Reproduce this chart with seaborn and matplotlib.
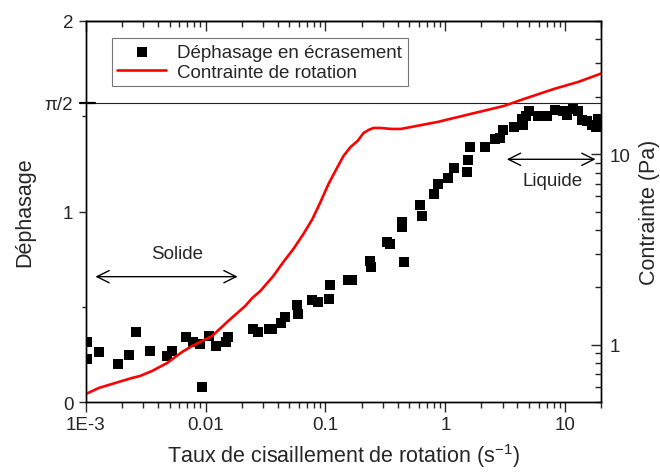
import numpy as np
import pandas as pd
import matplotlib
matplotlib.use("Agg")
import matplotlib.pyplot as plt
from matplotlib.ticker import FixedLocator, NullFormatter, LogLocator, FixedFormatter
import seaborn as sns

# Phase shift in squeezing (left axis)
shear_rate_phase = [0.00102, 0.00102, 0.001285, 0.001854, 0.00229, 0.00262, 0.00343, 0.00476,
                    0.00525, 0.00687, 0.00786, 0.00899, 0.00935, 0.0107, 0.01225, 0.01486,
                    0.0154, 0.0250, 0.0275, 0.0340, 0.0360, 0.0428, 0.0462, 0.0583, 0.0594,
                    0.0778, 0.0873, 0.1079, 0.110, 0.153, 0.165, 0.233, 0.238, 0.324, 0.343,
                    0.433, 0.433, 0.450, 0.612, 0.636, 0.801, 0.865, 1.05, 1.18, 1.51, 1.54,
                    1.60, 2.14, 2.60, 2.86, 3.03, 3.74, 4.45, 4.37, 4.72, 5.00, 5.95, 7.07,
                    8.24, 9.62, 10.4, 11.7, 12.8, 13.9, 15.3, 16.8, 18.2, 18.9]
phase = [0.313, 0.225, 0.261, 0.198, 0.245, 0.366, 0.266, 0.240, 0.266, 0.339, 0.313, 0.303,
         0.078, 0.345, 0.292, 0.313, 0.339, 0.381, 0.366, 0.386, 0.386, 0.413, 0.444, 0.507,
         0.460, 0.533, 0.527, 0.543, 0.616, 0.642, 0.642, 0.742, 0.710, 0.841, 0.830, 0.945,
         0.919, 0.736, 1.034, 0.977, 1.091, 1.144, 1.175, 1.227, 1.206, 1.269, 1.337, 1.337,
         1.379, 1.384, 1.426, 1.441, 1.452, 1.488, 1.499, 1.525, 1.499, 1.499, 1.535, 1.530,
         1.504, 1.540, 1.530, 1.478, 1.473, 1.452, 1.446, 1.488]

# Rotational stress (right axis, Pa)
shear_rate_stress = [0.001, 0.001285, 0.00175, 0.00243, 0.00283, 0.00357, 0.00476, 0.00636,
                     0.00771, 0.00899, 0.01133, 0.01542, 0.0214, 0.02449, 0.02858, 0.03671,
                     0.04451, 0.05398, 0.06545, 0.07784, 0.09082, 0.1060, 0.1260, 0.1414,
                     0.1619, 0.1853, 0.2080, 0.2290, 0.2521, 0.2886, 0.3500, 0.425, 0.865,
                     1.63, 3.09, 4.54, 8.09, 12.85, 20.0]
stress = [0.551, 0.593, 0.629, 0.669, 0.685, 0.728, 0.801, 0.916, 0.984, 1.033, 1.111, 1.331,
          1.597, 1.758, 1.913, 2.294, 2.718, 3.180, 3.812, 4.568, 5.612, 6.977, 8.566, 9.786,
          10.91, 11.73, 12.92, 13.40, 13.72, 13.72, 13.56, 13.56, 14.76, 16.26, 17.91, 19.49,
          22.0, 23.93, 26.5]

x_tick_values = [1e-3, 1e-2, 1e-1, 1, 10]
x_tick_labels = ["1E-3", "0.01", "0.1", "1", "10"]
phase_tick_values = [0, 1, 2, np.pi / 2]
phase_tick_labels = ["0", "1", "2", "π/2"]
stress_tick_values = [1, 10]
stress_tick_labels = ["1", "10"]

df_phase = pd.DataFrame({"rate": shear_rate_phase, "phase": phase})
df_stress = pd.DataFrame({"rate": shear_rate_stress, "stress": stress})

sns.set_style("ticks")
plt.rcParams["font.family"] = ["Liberation Sans", "DejaVu Sans"]
plt.rcParams["axes.linewidth"] = 1.0
plt.rcParams["mathtext.fontset"] = "custom"
plt.rcParams["mathtext.rm"] = "Liberation Sans"

fig = plt.figure(figsize=(6.6, 4.77), dpi=100)
ax = fig.add_axes([0.130, 0.155, 0.781, 0.799])
ax2 = ax.twinx()

sns.scatterplot(data=df_phase, x="rate", y="phase", ax=ax, marker="s", s=48,
                color="black", edgecolor="black", linewidth=0, zorder=3,
                label="Déphasage en écrasement", legend=False)
sns.lineplot(data=df_stress, x="rate", y="stress", ax=ax2, color="#ff0000",
             linewidth=1.9, label="Contrainte de rotation", legend=False, sort=True)

ax.set_xscale("log")
ax.set_xlim(1e-3, 20)
ax.set_ylim(0, 2)
ax2.set_yscale("log")
ax2.set_ylim(0.5, 50)

# pi/2 reference line
ax.axhline(np.pi / 2, color="#222222", linewidth=0.8, zorder=1)

# x ticks
ax.xaxis.set_major_locator(FixedLocator(x_tick_values))
ax.xaxis.set_major_formatter(FixedFormatter(x_tick_labels))
ax.xaxis.set_minor_locator(LogLocator(base=10, subs=np.arange(2, 10)))
ax.xaxis.set_minor_formatter(NullFormatter())
ax.tick_params(axis="x", which="major", direction="out", length=7, width=1,
               labelsize=13.5, pad=3)
ax.tick_params(axis="x", which="minor", direction="out", length=4, width=1)

top = ax.secondary_xaxis("top")
top.xaxis.set_major_locator(FixedLocator(x_tick_values))
top.xaxis.set_minor_locator(LogLocator(base=10, subs=np.arange(2, 10)))
top.xaxis.set_major_formatter(NullFormatter())
top.xaxis.set_minor_formatter(NullFormatter())
top.tick_params(axis="x", which="major", direction="in", length=7, width=1)
top.tick_params(axis="x", which="minor", direction="in", length=4, width=1)

# left y ticks
ax.yaxis.set_major_locator(FixedLocator(phase_tick_values))
ax.yaxis.set_major_formatter(FixedFormatter(phase_tick_labels))
ax.yaxis.set_minor_locator(FixedLocator([0.5, 1.5]))
ax.tick_params(axis="y", which="major", direction="out", length=5, width=1,
               labelsize=13.5, pad=4)
ax.tick_params(axis="y", which="minor", direction="out", length=3, width=1)
pi_tick = ax.yaxis.get_major_ticks()[3]
pi_tick.tick1line.set_markersize(0)
ax.plot([-0.012, 0.018], [np.pi / 2, np.pi / 2], transform=ax.get_yaxis_transform(),
        color="black", linewidth=1.6, clip_on=False, zorder=4)

# right y ticks
ax2.yaxis.set_major_locator(FixedLocator(stress_tick_values))
ax2.yaxis.set_major_formatter(FixedFormatter(stress_tick_labels))
ax2.yaxis.set_minor_locator(LogLocator(base=10, subs=np.arange(2, 10)))
ax2.yaxis.set_minor_formatter(NullFormatter())
ax2.tick_params(axis="y", which="major", direction="in", length=7, width=1,
                labelsize=13.5, pad=6)
ax2.tick_params(axis="y", which="minor", direction="in", length=4, width=1)

for a in (ax, ax2):
    for s in a.spines.values():
        s.set_color("black")
        s.set_linewidth(1.0)

ax.set_xlabel("Taux de cisaillement de rotation (s$^{\\mathregular{-1}}$)",
              fontsize=15.5, labelpad=6)
ax.set_ylabel("Déphasage", fontsize=15.5, labelpad=7)
ax2.set_ylabel("Contrainte (Pa)", fontsize=15.5, labelpad=6, rotation=90)

# Regime annotations
ax.annotate("", xy=(0.00114, 0.658), xytext=(0.0195, 0.658),
            arrowprops=dict(arrowstyle="<->", color="black", lw=1.0,
                            mutation_scale=22))
ax.text(0.00578, 0.778, "Solide", fontsize=13.5, ha="center", va="center")
ax.annotate("", xy=(3.09, 1.274), xytext=(18.9, 1.274),
            arrowprops=dict(arrowstyle="<->", color="black", lw=1.0,
                            mutation_scale=22))
ax.text(7.78, 1.164, "Liquide", fontsize=13.5, ha="center", va="center")

# Combined legend
h1, l1 = ax.get_legend_handles_labels()
h2, l2 = ax2.get_legend_handles_labels()
leg = ax2.legend(h1 + h2, l1 + l2, loc="upper left", bbox_to_anchor=(0.05, 0.955),
                 fontsize=13.5, frameon=True, fancybox=False, edgecolor="#555555",
                 handlelength=2.6, handletextpad=0.6, borderpad=0.3,
                 labelspacing=0.15, borderaxespad=0.0)
leg.get_frame().set_linewidth(0.8)

fig.savefig("out.png", dpi=100)
